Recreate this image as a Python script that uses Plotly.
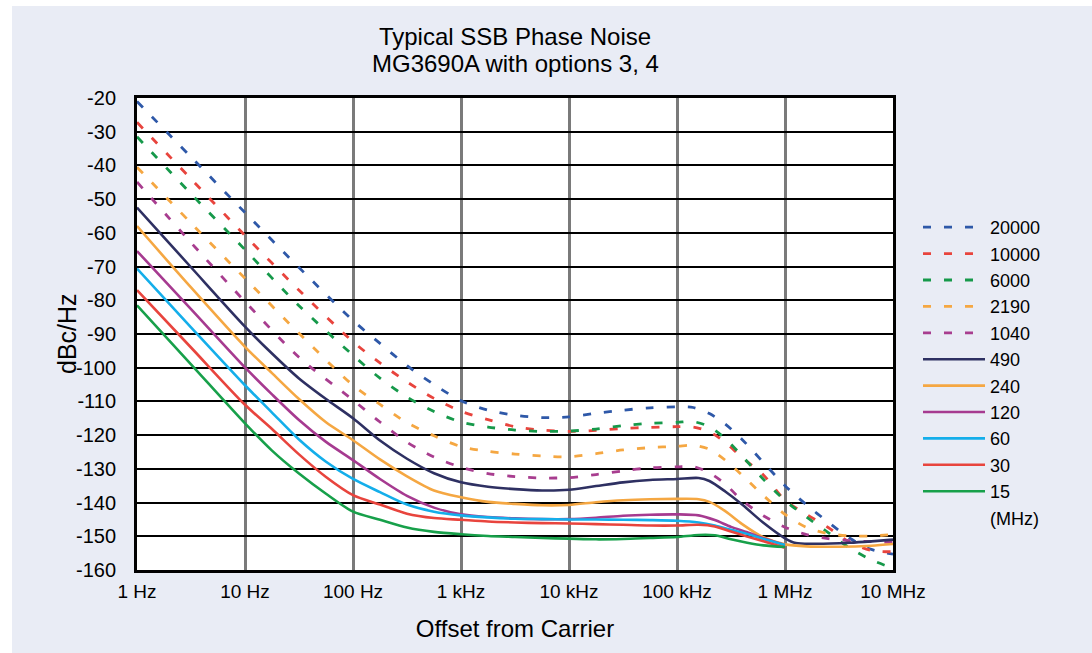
import plotly.graph_objects as go

# ---------------- data (log10 of offset in Hz, dBc/Hz) ----------------
names = ["20000", "10000", "6000", "2190", "1040", "490", "240", "120", "60", "30", "15"]
colors = ["#2E58A8", "#E8443D", "#16994A", "#F5A742", "#A83D8F",
          "#2E3062", "#F5A742", "#A63A90", "#14AEEA", "#E8443D", "#17A04A"]
dashed = [True, True, True, True, True, False, False, False, False, False, False]

lx_dash = [0, 0.5, 1, 1.5, 2, 2.25, 2.5, 2.75, 3, 3.25, 3.5, 3.75, 4, 4.25, 4.5,
           4.75, 5, 5.15, 5.3, 5.45, 5.6, 5.8, 6, 6.2, 6.4, 6.6, 6.8, 7]
pn_20000 = [-21, -37.5, -54, -70.3, -86, -92.8, -99.4, -105, -109.8, -112.6, -114.1,
            -114.8, -114.6, -113.5, -112.6, -111.9, -111.6, -111.8, -113.6, -116.8,
            -121.2, -128.1, -135, -140.7, -145.8, -150.6, -153.9, -155.3]
pn_10000 = [-27.2, -44, -60.8, -77, -92.3, -98.6, -104.2, -109.1, -112.9, -115.4, -117.5,
            -118.5, -118.9, -118.6, -118, -117.7, -117.5, -117.6, -119, -122.2,
            -126.6, -131.8, -139.3, -143.5, -147.4, -151.8, -154.2, -154.6]
pn_6000 = [-31.5, -48.4, -65, -81.6, -96.3, -103.1, -108.7, -113, -116.1, -117.6, -118.5,
           -118.9, -118.8, -118.2, -117.2, -116.5, -116.2, -116, -117.5, -121.1,
           -126.1, -133.1, -139.4, -144.3, -148.9, -153.5, -157, -159.5]
pn_2190 = [-40.5, -57.1, -73.5, -89.8, -105.2, -110.9, -116.3, -120.2, -123.4, -124.8, -125.6,
           -126.2, -126.4, -125.5, -124.4, -123.7, -123.3, -123, -124.2, -127.5,
           -131.8, -137.9, -143.5, -147.4, -149.2, -149.9, -149.9, -149.5]
pn_1040 = [-44.9, -62.9, -80.4, -96.9, -109.6, -116.1, -122.1, -126.5, -129.5, -131.4, -132.3,
           -132.7, -132.6, -131.7, -130.6, -129.7, -129.4, -129.3, -131.2, -134.6,
           -139.3, -143.9, -147.3, -149.5, -150.7, -151.3, -151.6, -151.8]

lx_490 = [0, 0.5, 1, 1.25, 1.5, 1.75, 2, 2.25, 2.5, 2.75, 3, 3.25, 3.5, 3.75, 4, 4.25,
          4.5, 4.75, 5, 5.2, 5.3, 5.45, 5.6, 5.8, 6, 6.1, 6.3, 6.6, 6.8, 7]
pn_490 = [-52.5, -70.2, -87.8, -95.8, -103.2, -109.3, -115, -121.6, -127, -131.3, -134,
          -135.3, -136, -136.4, -136.2, -135.1, -134, -133.3, -133, -132.7, -133.6,
          -136.8, -140.5, -146, -150.6, -152, -152.2, -151.9, -151.5, -151]
lx_240 = [0, 0.5, 1, 1.25, 1.5, 1.75, 2, 2.25, 2.5, 2.75, 3, 3.25, 3.5, 3.75, 4, 4.25,
          4.5, 4.75, 5, 5.2, 5.3, 5.45, 5.6, 5.8, 6, 6.2, 6.5, 6.8, 7]
pn_240 = [-58, -76.2, -93.8, -101.6, -109.3, -116.2, -121.5, -127.2, -132.2, -136.4, -138.4,
          -139.8, -140.4, -140.8, -140.7, -139.9, -139.3, -139, -138.9, -139, -139.8,
          -142.6, -146.3, -150.3, -152.4, -153, -153.1, -152.8, -152.3]

lx_low = [0, 0.5, 1, 1.25, 1.5, 1.75, 2, 2.25, 2.5, 2.75, 3, 3.25, 3.5, 3.75, 4, 4.25,
          4.5, 4.75, 5, 5.2, 5.35, 5.5, 5.65, 5.8, 6]
pn_120 = [-65.4, -82.6, -99.9, -107.9, -115.5, -122, -127.4, -133, -138, -141.5, -143.5,
          -144.3, -144.7, -144.9, -144.9, -144.5, -143.9, -143.6, -143.5, -143.8, -145.2,
          -147.2, -148.8, -150.6, -152.6]
pn_60 = [-70.6, -88, -105.2, -113.3, -121.3, -127.9, -133, -136.9, -140.6, -142.7, -143.8,
         -144.4, -144.8, -144.9, -145, -145, -145.1, -145.2, -145.4, -145.9, -146.8,
         -148.1, -149.3, -150.8, -152.6]
pn_30 = [-77, -94, -111, -118.2, -125.7, -132.4, -137.8, -140.6, -143.3, -144.6, -145.1,
         -145.6, -145.9, -146.1, -146.2, -146.4, -146.6, -146.8, -146.8, -146.6, -147.1,
         -148.6, -150.1, -151.5, -153.4]
pn_15 = [-81.5, -99, -116.5, -124.6, -131.4, -137.4, -142.7, -145.1, -147.4, -148.7, -149.4,
         -149.9, -150.2, -150.5, -150.7, -150.9, -150.8, -150.5, -150.2, -149.6, -149.7,
         -150.9, -151.9, -152.7, -153.2]

series_x = [lx_dash] * 5 + [lx_490, lx_240] + [lx_low] * 4
series_y = [pn_20000, pn_10000, pn_6000, pn_2190, pn_1040, pn_490, pn_240,
            pn_120, pn_60, pn_30, pn_15]

x_tickvals = [1, 10, 100, 1e3, 1e4, 1e5, 1e6, 1e7]
x_ticktext = ["1 Hz", "10 Hz", "100 Hz", "1 kHz", "10 kHz", "100 kHz", "1 MHz", "10 MHz"]
y_tickvals = list(range(-160, -19, 10))
y_ticktext = [str(v) for v in y_tickvals]

# ---------------- figure ----------------
W, H = 1092, 653
ML, MT = 137, 98
MR = W - 893
MB = H - 570
PW, PH = W - ML - MR, H - MT - MB
FONT = "Liberation Sans, Arial, sans-serif"
BG = "#E9ECF5"


def px_x(p):                  # page pixel -> paper x
    return (p - ML) / PW


def px_y(p):                  # page pixel -> paper y
    return (H - MB - p) / PH


fig = go.Figure()
for name, col, dsh, lx, yv in zip(names, colors, dashed, series_x, series_y):
    fig.add_trace(go.Scatter(
        x=[10 ** v for v in lx], y=yv, mode="lines", name=name,
        line=dict(color=col, width=2.8 if dsh else 2.6,
                  dash="8px,13px" if dsh else "solid",
                  shape="spline", smoothing=0.8),
        hoverinfo="x+y+name"))
# unit label as last legend row
fig.add_trace(go.Scatter(x=[None], y=[None], mode="lines", name="(MHz)",
                         line=dict(color="rgba(0,0,0,0)", width=1)))

fig.update_layout(
    width=W, height=H,
    margin=dict(l=ML, r=MR, t=MT, b=MB, pad=0),
    paper_bgcolor=BG, plot_bgcolor="white",
    font=dict(family=FONT, color="black", size=19),
    title=dict(text="Typical SSB Phase Noise",
               x=0.5, xref="paper", xanchor="center",
               y=1 - 37 / H, yref="container", yanchor="middle",
               font=dict(family=FONT, size=24, color="black")),
    annotations=[
        dict(text="MG3690A with options 3, 4", showarrow=False,
             x=0.5, xref="paper", xanchor="center",
             y=px_y(63), yref="paper", yanchor="middle",
             font=dict(family=FONT, size=24, color="black")),
        dict(text="dBc/Hz", showarrow=False, textangle=-90,
             x=px_x(67), xref="paper", xanchor="center",
             y=px_y(334), yref="paper", yanchor="middle",
             font=dict(family=FONT, size=25, color="black")),
    ],
    showlegend=True,
    legend=dict(x=px_x(918), xanchor="left", y=px_y(209), yanchor="top",
                bgcolor="rgba(0,0,0,0)", font=dict(size=18, color="black"),
                itemwidth=62, tracegroupgap=0),
    xaxis=dict(type="log", range=[0, 7], tickvals=x_tickvals, ticktext=x_ticktext,
               showgrid=True, gridcolor="#7A7A7A", gridwidth=2.5,
               showline=True, linecolor="black", linewidth=3, mirror=True,
               ticks="", ticklabelstandoff=2, zeroline=False,
               tickfont=dict(size=19),
               title=dict(text="Offset from Carrier", font=dict(size=24), standoff=20)),
    yaxis=dict(range=[-160, -20], tickvals=y_tickvals, ticktext=y_ticktext,
               showgrid=True, gridcolor="black", gridwidth=1.5,
               showline=True, linecolor="black", linewidth=3, mirror=True,
               ticks="", ticklabelstandoff=14, zeroline=False,
               tickfont=dict(size=20)),
    shapes=[
        dict(type="rect", xref="paper", yref="paper", layer="below",
             x0=px_x(0), x1=px_x(W), y0=px_y(6), y1=px_y(0),
             fillcolor="white", line=dict(width=0)),
        dict(type="rect", xref="paper", yref="paper", layer="below",
             x0=px_x(0), x1=px_x(12), y0=px_y(H), y1=px_y(0),
             fillcolor="white", line=dict(width=0)),
    ],
)

page_js = ("document.body.style.margin='0';"
           "document.body.style.background='%s';"
           "document.documentElement.style.background='%s';" % (BG, BG))
fig.write_html("out.html", config={"displayModeBar": False}, post_script=page_js)
